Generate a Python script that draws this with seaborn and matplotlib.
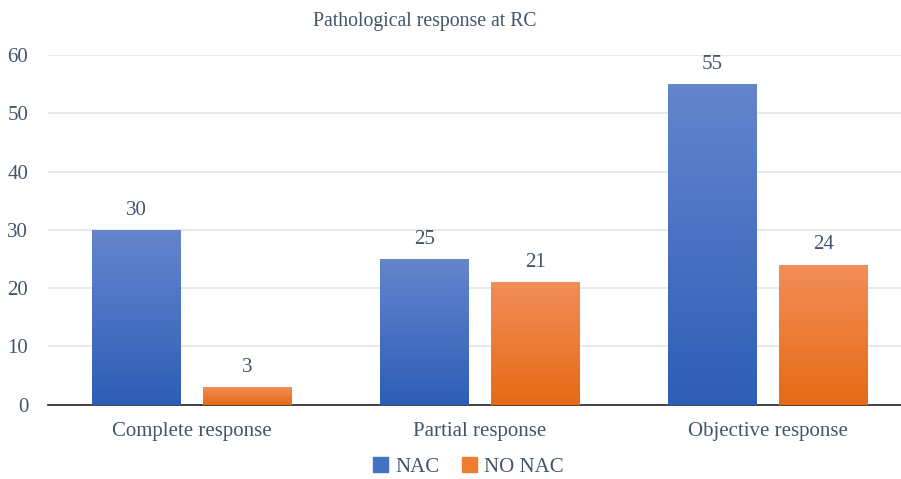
import numpy as np
import pandas as pd
import seaborn as sns
import matplotlib.pyplot as plt
from matplotlib.patches import Rectangle
from matplotlib.colors import LinearSegmentedColormap

categories = ['Complete response', 'Partial response', 'Objective response']
groups = ['NAC', 'NO NAC']
nac = [30, 25, 55]
no_nac = [3, 21, 24]

TEXT = '#44546A'
# top / bottom colour of each gradient
GRAD = {'NAC': ('#6585CD', '#2E5DB7'), 'NO NAC': ('#F28E58', '#E66A14')}
SOLID = {'NAC': '#4472C4', 'NO NAC': '#ED7D31'}

df = pd.DataFrame({
    'category': categories * 2,
    'group': [groups[0]] * 3 + [groups[1]] * 3,
    'value': nac + no_nac,
})

sns.set_theme(style='white')
plt.rcParams['font.family'] = ['Liberation Serif', 'DejaVu Serif']

fig = plt.figure(figsize=(9.01, 4.79), dpi=100)
ax = fig.add_axes([0.053, 0.155, 0.959, 0.73])

sns.barplot(data=df, x='category', y='value', hue='group', order=categories,
            hue_order=groups, palette=SOLID, width=0.771, gap=0.2,
            legend=False, ax=ax, zorder=3)

# paint a vertical gradient into every bar
for container, g in zip(ax.containers, groups):
    cmap = LinearSegmentedColormap.from_list(g, [GRAD[g][1], GRAD[g][0]])
    for bar, v in zip(container, container.datavalues):
        x0, y0 = bar.get_x(), bar.get_y()
        w, h = bar.get_width(), bar.get_height()
        bar.set_facecolor('none')
        bar.set_edgecolor('none')
        grad = np.linspace(0, 1, 256).reshape(-1, 1)
        im = ax.imshow(grad, cmap=cmap, origin='lower', aspect='auto',
                       extent=(x0, x0 + w, y0, y0 + h), zorder=3)
        im.set_clip_path(bar)
        ax.annotate('%d' % v, (x0 + w / 2, y0 + h), xytext=(0, 7.5),
                    textcoords='offset points', ha='center', va='bottom',
                    fontsize=15, color=TEXT)

ax.set_xlim(-0.5, 2.5)
ax.set_ylim(0, 60)
ax.set_yticks(range(0, 61, 10))
ax.yaxis.grid(True, color='#E3E6EA', linewidth=1.2, zorder=0)
ax.set_axisbelow(True)
for s in ['top', 'right', 'left']:
    ax.spines[s].set_visible(False)
ax.spines['bottom'].set_color('#222222')
ax.spines['bottom'].set_linewidth(1.2)
ax.tick_params(axis='both', length=0, labelsize=15, labelcolor=TEXT)
ax.tick_params(axis='x', pad=12.5)
ax.tick_params(axis='y', pad=14)
ax.set_xlabel('')
ax.set_ylabel('')

fig.text(0.471, 0.956, 'Pathological response at RC', ha='center',
         va='center', fontsize=14.2, color=TEXT)

handles = [Rectangle((0, 0), 1, 1, color=SOLID[g]) for g in groups]
fig.legend(handles, groups, loc='center', bbox_to_anchor=(0.52, 0.025),
           ncol=2, frameon=False, fontsize=15, labelcolor=TEXT,
           handlelength=0.7, handleheight=0.7, handletextpad=0.35,
           columnspacing=1.1)

fig.savefig('out.png', dpi=100)
